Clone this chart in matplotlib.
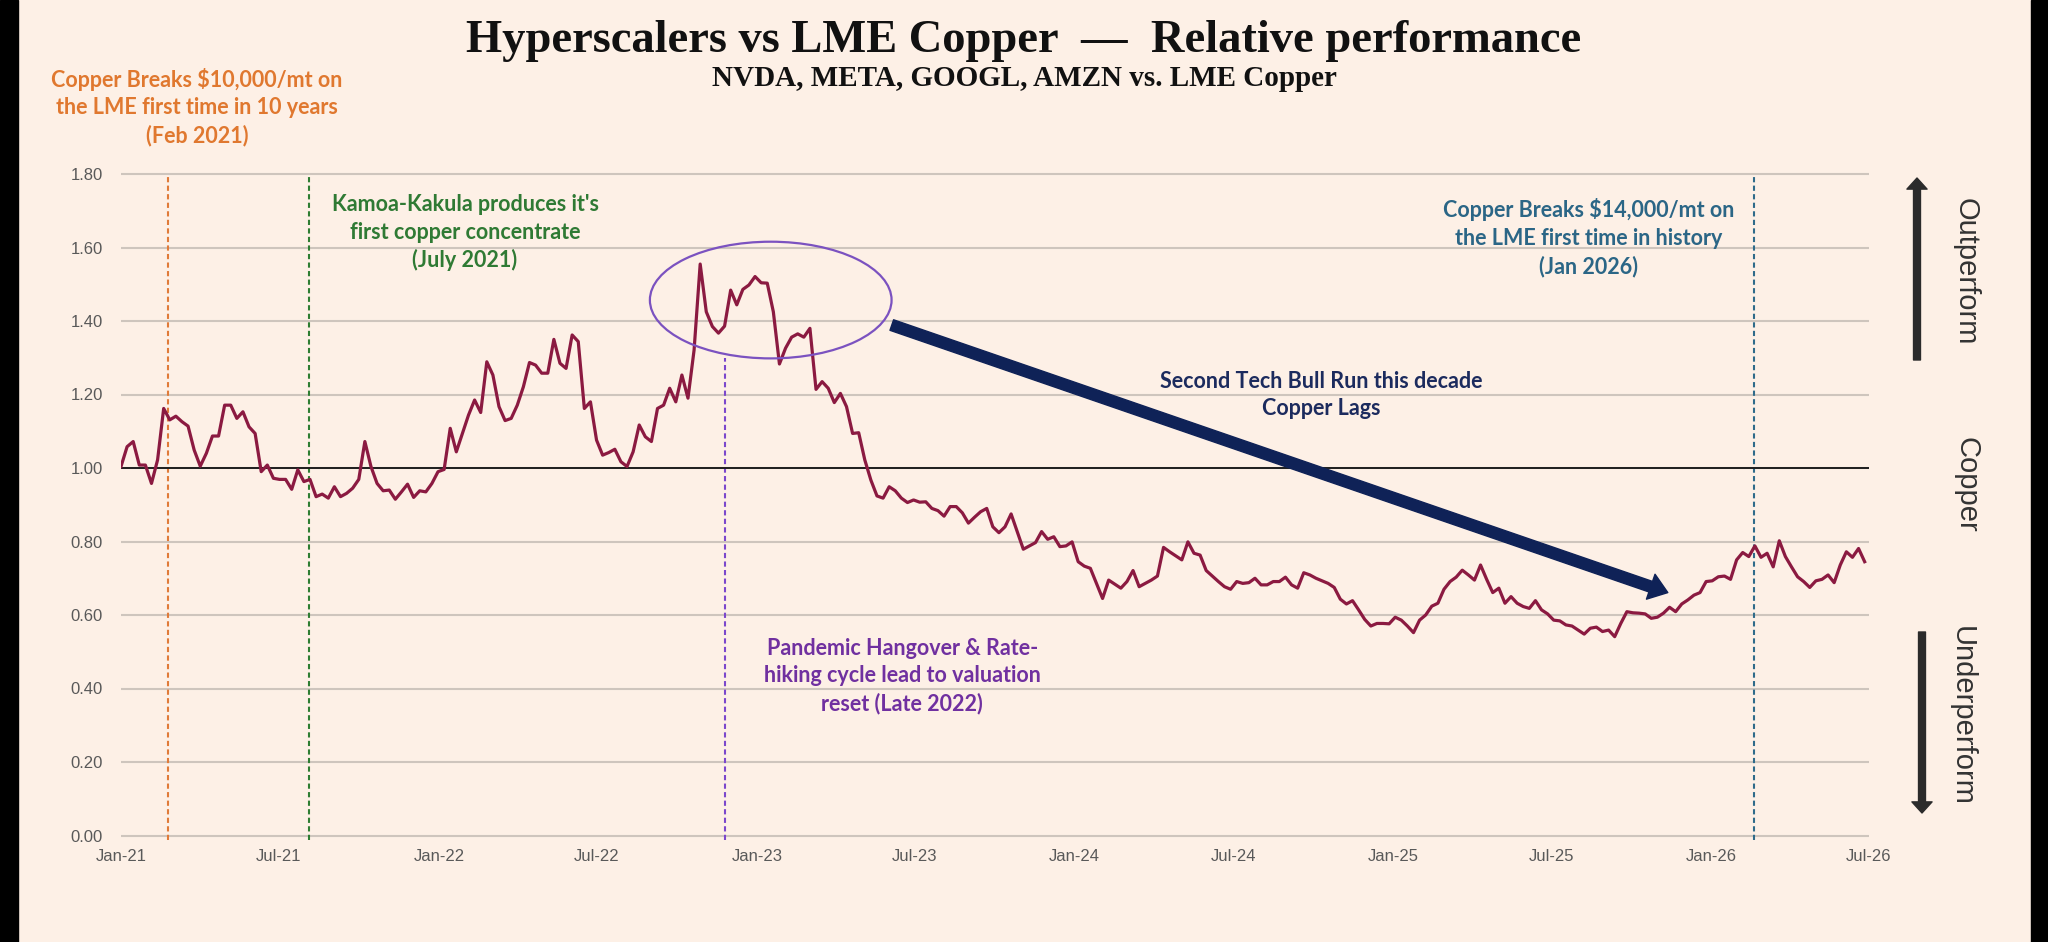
import numpy as np
import pandas as pd
import matplotlib
matplotlib.use("Agg")
import matplotlib.pyplot as plt
import matplotlib.dates as mdates
from matplotlib.patches import Ellipse, Rectangle

# Weekly relative performance: hyperscaler basket vs LME copper (1.00 = in line)
start_date = "2021-01-01"
ratio = [
    1.004, 1.058, 1.072, 1.008, 1.008, 0.958, 1.022, 1.162, 1.131, 1.141,
    1.126, 1.114, 1.049, 1.005, 1.040, 1.087, 1.087, 1.171, 1.171, 1.135,
    1.153, 1.112, 1.094, 0.990, 1.008, 0.972, 0.969, 0.969, 0.942, 0.995,
    0.963, 0.969, 0.922, 0.929, 0.918, 0.949, 0.922, 0.931, 0.945, 0.969,
    1.072, 1.004, 0.958, 0.938, 0.940, 0.915, 0.935, 0.956, 0.920, 0.938,
    0.935, 0.958, 0.990, 0.996, 1.108, 1.044, 1.094, 1.144, 1.185, 1.151,
    1.289, 1.253, 1.167, 1.129, 1.135, 1.171, 1.221, 1.287, 1.280, 1.258,
    1.258, 1.350, 1.285, 1.271,
    1.362, 1.344, 1.162, 1.180, 1.076, 1.035, 1.042, 1.051, 1.017, 1.004,
    1.044, 1.117, 1.085, 1.072, 1.162, 1.171, 1.217, 1.180, 1.253, 1.190,
    1.321, 1.555, 1.425, 1.385, 1.367, 1.386, 1.484, 1.444, 1.486, 1.498,
    1.521, 1.504, 1.503, 1.425, 1.283, 1.326, 1.356, 1.365, 1.356, 1.380,
    1.214, 1.235, 1.217, 1.178, 1.203, 1.167, 1.094, 1.096, 1.022, 0.967,
    0.924, 0.918, 0.949, 0.938, 0.918, 0.906, 0.913, 0.907, 0.908, 0.890,
    0.884, 0.869, 0.895, 0.895, 0.878, 0.850, 0.866, 0.881, 0.890, 0.840,
    0.824, 0.840,
    0.875, 0.827, 0.779, 0.788, 0.797, 0.827, 0.806, 0.813, 0.786, 0.788,
    0.799, 0.745, 0.733, 0.727, 0.686, 0.645, 0.695, 0.684, 0.673, 0.691,
    0.721, 0.677, 0.686, 0.695, 0.706, 0.784, 0.772, 0.761, 0.750, 0.799,
    0.768, 0.763, 0.721, 0.706, 0.691, 0.677, 0.670, 0.691, 0.686, 0.688,
    0.700, 0.682, 0.682, 0.691, 0.691, 0.703, 0.682, 0.673, 0.715, 0.709,
    0.700, 0.693, 0.686, 0.675, 0.643, 0.630, 0.639, 0.614, 0.588, 0.570,
    0.577, 0.577, 0.576, 0.594, 0.586, 0.570, 0.552,
    0.586, 0.600, 0.624, 0.632, 0.670, 0.691, 0.703, 0.722, 0.709, 0.695,
    0.736, 0.697, 0.661, 0.673, 0.632, 0.650, 0.632, 0.623, 0.618, 0.639,
    0.614, 0.603, 0.586, 0.584, 0.573, 0.570, 0.559, 0.548, 0.564, 0.567,
    0.555, 0.559, 0.541, 0.577, 0.609, 0.606, 0.605, 0.603, 0.591, 0.594,
    0.605, 0.621, 0.609, 0.630, 0.641, 0.654, 0.661, 0.691, 0.693, 0.704,
    0.706, 0.697, 0.750, 0.770, 0.759, 0.788, 0.757, 0.768, 0.731, 0.802,
    0.759, 0.731, 0.704, 0.691, 0.675, 0.693, 0.697, 0.709, 0.688, 0.736,
    0.772, 0.757, 0.781, 0.745,
]
dates = pd.date_range(start_date, periods=len(ratio), freq="7D")

# event markers (dashed verticals)
event_dates = ["2021-02-24", "2021-08-05", "2022-11-25", "2026-02-19"]
event_colors = ["#E07B39", "#2E7D32", "#7B48CC", "#2F6B8A"]
event_tops = [1.80, 1.80, 1.30, 1.80]

yticks = [0.0, 0.2, 0.4, 0.6, 0.8, 1.0, 1.2, 1.4, 1.6, 1.8]

BG = "#FDF0E6"
W, H = 2048, 942


def fx(px):
    return px / W


def fy(py):
    return 1 - py / H


def dn(d):
    return mdates.date2num(pd.Timestamp(d))


fig = plt.figure(figsize=(W / 100, H / 100), dpi=100, facecolor=BG)
ax = fig.add_axes([fx(121), fy(835.5), fx(1869) - fx(121), fy(174) - fy(835.5)])
ax.set_facecolor(BG)

x0, x1 = dn("2021-01-01"), dn("2026-07-01")
ax.set_xlim(x0, x1)
ax.set_ylim(0, 1.8)

# gridlines
ax.hlines(yticks, x0, x1, colors="#CEC5BD", lw=1.5, zorder=1, clip_on=False)
ax.axhline(1.0, color="#1E1E1E", lw=1.4, zorder=3)

for d, c, top in zip(event_dates, event_colors, event_tops):
    ax.vlines(dn(d), -0.012, top, colors=c, linestyles=(0, (2.5, 1.6)), lw=1.5,
              zorder=2, clip_on=False)

ax.plot(dates, ratio, color="#8B1A41", lw=2.3, zorder=4)

ax.set_yticks(yticks)
ax.yaxis.set_major_formatter(plt.FuncFormatter(lambda v, p: f"{v:.2f}"))
ax.xaxis.set_major_locator(mdates.MonthLocator(bymonth=[1, 7]))
ax.xaxis.set_major_formatter(mdates.DateFormatter("%b-%y"))
ax.tick_params(axis="y", length=0, pad=13, labelsize=12, labelcolor="#595959")
ax.tick_params(axis="x", length=0, pad=10, labelsize=12, labelcolor="#595959")
for lab in ax.get_xticklabels() + ax.get_yticklabels():
    lab.set_fontfamily("Liberation Sans")
for s in ax.spines.values():
    s.set_visible(False)

# circled peak + trend arrow
ax.add_patch(Ellipse((dn("2023-01-17"), 1.457), 277.5, 0.3175, fill=False,
                     ec="#7B52C0", lw=1.6, zorder=5))
ax.annotate("", xy=(dn("2025-11-12"), 0.661), xytext=(dn("2023-06-05"), 1.389),
            arrowprops=dict(arrowstyle="simple,head_width=1.9,head_length=1.3,tail_width=0.8",
                            mutation_scale=10, color="#0F2257", shrinkA=0, shrinkB=0),
            zorder=6)

ann = dict(family="Lato", fontweight="bold", fontsize=15.5, ha="center", va="center",
           linespacing=1.38)
ax.text(dn("2022-01-31"), 1.64, "Kamoa-Kakula produces it's\nfirst copper concentrate\n(July 2021)",
        color="#2F7A34", **ann)
ax.text(dn("2025-08-13"), 1.626, "Copper Breaks $14,000/mt on\nthe LME first time in history\n(Jan 2026)",
        color="#2B6686", **ann)
ax.text(dn("2024-10-10"), 1.199, "Second Tech Bull Run this decade\nCopper Lags",
        color="#1C2B5E", **ann)
ax.text(dn("2023-06-17"), 0.434, "Pandemic Hangover & Rate-\nhiking cycle lead to valuation\nreset (Late 2022)",
        color="#7030A0", **ann)
fig.text(fx(197), fy(107), "Copper Breaks $10,000/mt on\nthe LME first time in 10 years\n(Feb 2021)",
         color="#E0782F", **ann)

# titles
fig.text(0.5, fy(52.5), "Hyperscalers vs LME Copper  \u2014  Relative performance",
         family="Liberation Serif", fontweight="bold", fontsize=33.5, ha="center", va="baseline",
         color="#111111")
fig.text(0.5, fy(86), "NVDA, META, GOOGL, AMZN vs. LME Copper",
         family="Liberation Serif", fontweight="bold", fontsize=21, ha="center", va="baseline",
         color="#111111")

# right-hand scale labels
side = dict(family="Liberation Sans", fontsize=21, color="#333333", rotation=-90,
            ha="center", va="center")
fig.text(fx(1966), fy(272), "Outperform", **side)
fig.text(fx(1966), fy(485), "Copper", **side)
fig.text(fx(1962), fy(716), "Underperform", **side)
arr = dict(arrowstyle="simple,head_width=1.45,head_length=0.8,tail_width=0.5",
           mutation_scale=10, color="#2B2B2B", shrinkA=0, shrinkB=0)
ax.annotate("", xy=(1917, H - 178), xytext=(1917, H - 360), xycoords="figure pixels",
            textcoords="figure pixels", arrowprops=arr, annotation_clip=False)
ax.annotate("", xy=(1922, H - 813), xytext=(1922, H - 632), xycoords="figure pixels",
            textcoords="figure pixels", arrowprops=arr, annotation_clip=False)

# black side bars from the screenshot
fig.add_artist(Rectangle((0, 0), fx(18), 1, transform=fig.transFigure, color="black"))
fig.add_artist(Rectangle((fx(2031), 0), 1 - fx(2031), 1, transform=fig.transFigure, color="black"))

fig.savefig("out.png", dpi=100, facecolor=BG)
